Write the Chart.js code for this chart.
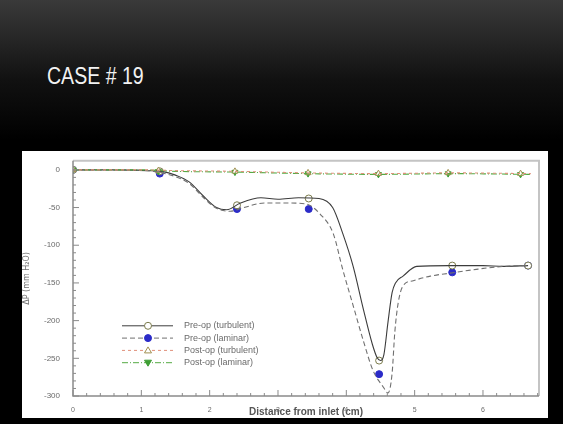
<!DOCTYPE html>
<html>
<head>
<meta charset="utf-8">
<script src="https://cdn.jsdelivr.net/npm/chart.js@4/dist/chart.umd.min.js"></script>
<style>
  html, body { margin: 0; padding: 0; }
  body {
    width: 563px; height: 424px; overflow: hidden; position: relative;
    background: linear-gradient(#3a3a3a 0px, #111 80px, #000 140px, #000 424px);
  }
  #title {
    position: absolute; left: 47px; top: 63px;
    font-family: "Liberation Sans", Arial, sans-serif;
    font-size: 23px; color: #f2f2f2;
    transform: scaleX(0.85); transform-origin: left top;
  }
  #panel {
    position: absolute; left: 22px; top: 151px; width: 526px; height: 267px;
    background: #fff;
  }
</style>
</head>
<body>
<div id="title">CASE # 19</div>
<div id="panel"><canvas id="pressure-chart" width="526" height="267"></canvas></div>
<script>
// pressure drop along the vessel (x in cm, y in mm H2O)

const seriesLabels = ['Pre-op (turbulent)', 'Pre-op (laminar)', 'Post-op (turbulent)', 'Post-op (laminar)'];

// continuous profiles
const preTurbX = [0, 0.6, 1.1, 1.3, 1.5, 1.7, 1.9, 2.1, 2.25, 2.45, 2.75, 3.0, 3.3, 3.6, 3.8, 3.95, 4.1, 4.25, 4.38, 4.45, 4.5, 4.55, 4.61, 4.67, 4.72, 4.83, 5.03, 5.5, 6.0, 6.3, 6.66];
const preTurbY = [0, 0, -1, -2, -7, -16, -34, -50, -53, -44, -37, -39, -37, -38, -50, -85, -128, -185, -231, -249, -253, -245, -202, -163, -150, -141, -128, -127, -127, -128, -127];

const preLamX = [0, 0.6, 1.1, 1.3, 1.5, 1.7, 1.9, 2.1, 2.3, 2.5, 2.8, 3.1, 3.4, 3.62, 3.81, 3.95, 4.1, 4.25, 4.39, 4.54, 4.61, 4.67, 4.71, 4.76, 4.83, 4.98, 5.23, 5.52, 5.9, 6.3, 6.66];
const preLamY = [0, 0, -1, -4, -9, -18, -36, -51, -55, -50, -44, -44, -45, -59, -85, -133, -180, -227, -266, -288, -296, -270, -215, -176, -154, -147, -141, -137, -132, -128, -127];

const postX = [0, 1.0, 1.5, 2.4, 3.4, 4.5, 5.5, 6.7];
const postTurbY = [0, 0, -1, -2, -4, -5, -4, -5];
const postLamY = [0, 0, -2, -3, -5, -6, -5, -6];

// sampled points (markers)
const preMarkX = [0, 1.27, 2.4, 3.45, 4.48, 5.55, 6.66];
const preTurbMarkY = [0, -2, -47, -38, -253, -127, -127];
const preLamMarkY = [0, -5, -52, -52, -271, -136, -127];
const postMarkX = [0, 1.25, 2.37, 3.44, 4.47, 5.49, 6.55];
const postTurbMarkY = [0, -1, -2, -4, -5, -4, -5];
const postLamMarkY = [0, -2, -3, -5, -6, -5, -6];

const xTicks = [0, 1, 2, 3, 4, 5, 6];
const yTicks = [0, -50, -100, -150, -200, -250, -300];

function toPoints(xs, ys) {
    return xs.map((x, i) => ({ x: x, y: ys[i] }));
}

const styles = [
    { line: '#3c3c3c', dash: [], mark: 'circle', fill: '#ffffff', stroke: '#7a7a4a', rot: 0 },
    { line: '#707070', dash: [5, 3], mark: 'circle', fill: '#2b2bc8', stroke: '#2b2bc8', rot: 0 },
    { line: '#e0907a', dash: [3, 3], mark: 'triangle', fill: '#ffffff', stroke: '#a09050', rot: 0 },
    { line: '#55aa44', dash: [6, 2, 1, 2], mark: 'triangle', fill: '#3f9f35', stroke: '#3f9f35', rot: 180 }
];

function lineSet(xs, ys, s) {
    return {
        type: 'line', data: toPoints(xs, ys), borderColor: s.line, borderWidth: 1.1,
        borderDash: s.dash, pointRadius: 0, cubicInterpolationMode: 'monotone', fill: false
    };
}
function markSet(xs, ys, s) {
    return {
        type: 'scatter', data: toPoints(xs, ys), showLine: false, pointStyle: s.mark,
        pointRotation: s.rot, pointRadius: 3.5, pointBackgroundColor: s.fill,
        pointBorderColor: s.stroke, pointBorderWidth: 1
    };
}

// legend drawn inside the plot, line sample with marker in the middle
const insideLegend = {
    id: 'insideLegend',
    afterDatasetsDraw(chart) {
        const ctx = chart.ctx, a = chart.chartArea;
        ctx.save();
        seriesLabels.forEach((label, i) => {
            const s = styles[i];
            const y = a.top + 165 + i * 12.3;
            const x0 = a.left + 49, x1 = a.left + 100, xm = a.left + 75;
            ctx.strokeStyle = s.line;
            ctx.lineWidth = 1;
            ctx.setLineDash(s.dash);
            ctx.beginPath(); ctx.moveTo(x0, y); ctx.lineTo(x1, y); ctx.stroke();
            ctx.setLineDash([]);
            ctx.fillStyle = s.fill; ctx.strokeStyle = s.stroke;
            ctx.beginPath();
            if (s.mark === 'circle') {
                ctx.arc(xm, y, 3.5, 0, Math.PI * 2);
            } else if (s.rot === 180) {
                ctx.moveTo(xm - 3.5, y - 2.5); ctx.lineTo(xm + 3.5, y - 2.5); ctx.lineTo(xm, y + 3.5);
            } else {
                ctx.moveTo(xm - 3.5, y + 2.5); ctx.lineTo(xm + 3.5, y + 2.5); ctx.lineTo(xm, y - 3.5);
            }
            ctx.closePath(); ctx.fill(); ctx.stroke();
            ctx.fillStyle = '#6a6a6a';
            ctx.font = '9px "Liberation Sans", Arial, sans-serif';
            ctx.textBaseline = 'middle';
            ctx.fillText(label, a.left + 111, y);
        });
        ctx.restore();
    }
};

// frame and inward ticks like the original plotting package
const frameTicks = {
    id: 'frameTicks',
    afterDraw(chart) {
        const ctx = chart.ctx, a = chart.chartArea;
        const xs = chart.scales.x, ys = chart.scales.y;
        ctx.save();
        ctx.strokeStyle = '#c4c4c4';
        ctx.lineWidth = 2;
        ctx.beginPath();
        ctx.moveTo(a.left, a.top); ctx.lineTo(a.right, a.top); ctx.lineTo(a.right, a.bottom);
        ctx.stroke();
        ctx.strokeStyle = '#8a8a8a';
        ctx.lineWidth = 1.5;
        ctx.beginPath();
        ctx.moveTo(a.left, a.top); ctx.lineTo(a.left, a.bottom); ctx.lineTo(a.right, a.bottom);
        ctx.stroke();
        ctx.lineWidth = 1;
        ctx.beginPath();
        for (let k = 0; k <= 34; k++) {
            const px = xs.getPixelForValue(k * 0.2);
            const len = k % 5 === 0 ? 6 : 3;
            ctx.moveTo(px, a.bottom); ctx.lineTo(px, a.bottom - len);
        }
        for (let k = 0; k <= 30; k++) {
            const py = ys.getPixelForValue(-k * 10);
            const len = k % 5 === 0 ? 6 : 3;
            ctx.moveTo(a.left, py); ctx.lineTo(a.left + len, py);
        }
        ctx.stroke();
        ctx.restore();
    }
};

new Chart(document.getElementById('pressure-chart'), {
    data: {
        datasets: [
            lineSet(postX, postTurbY, styles[2]),
            lineSet(postX, postLamY, styles[3]),
            lineSet(preLamX, preLamY, styles[1]),
            lineSet(preTurbX, preTurbY, styles[0]),
            markSet(postMarkX, postTurbMarkY, styles[2]),
            markSet(postMarkX, postLamMarkY, styles[3]),
            markSet(preMarkX, preTurbMarkY, styles[0]),
            markSet(preMarkX, preLamMarkY, styles[1])
        ]
    },
    options: {
        responsive: false,
        animation: false,
        layout: { padding: { top: 4, right: 9, left: 0, bottom: 0 } },
        plugins: { legend: { display: false }, tooltip: { enabled: false } },
        scales: {
            x: {
                type: 'linear', min: 0, max: 6.82,
                afterBuildTicks: s => { s.ticks = xTicks.map(v => ({ value: v })); },
                afterFit: s => { s.height = 22; },
                grid: { display: false },
                border: { display: false },
                ticks: { color: '#6a6a6a', padding: 2, font: { size: 7, family: 'Liberation Sans' } },
                title: {
                    display: true, text: 'Distance from inlet (cm)', color: '#555',
                    padding: { top: 0, bottom: 0 },
                    font: { size: 10, weight: 'bold', family: 'Liberation Sans' }
                }
            },
            y: {
                type: 'linear', min: -300, max: 12,
                afterBuildTicks: s => { s.ticks = yTicks.map(v => ({ value: v })); },
                afterFit: s => { s.width = 51; },
                grid: { display: false },
                border: { display: false },
                ticks: { color: '#6a6a6a', padding: 5, font: { size: 8, family: 'Liberation Sans' } },
                title: {
                    display: true, text: 'ΔP (mm H₂O)', color: '#707070',
                    padding: { top: 0, bottom: 2 },
                    font: { size: 8, family: 'DejaVu Sans' }
                }
            }
        }
    },
    plugins: [insideLegend, frameTicks]
});
</script>
</body>
</html>
